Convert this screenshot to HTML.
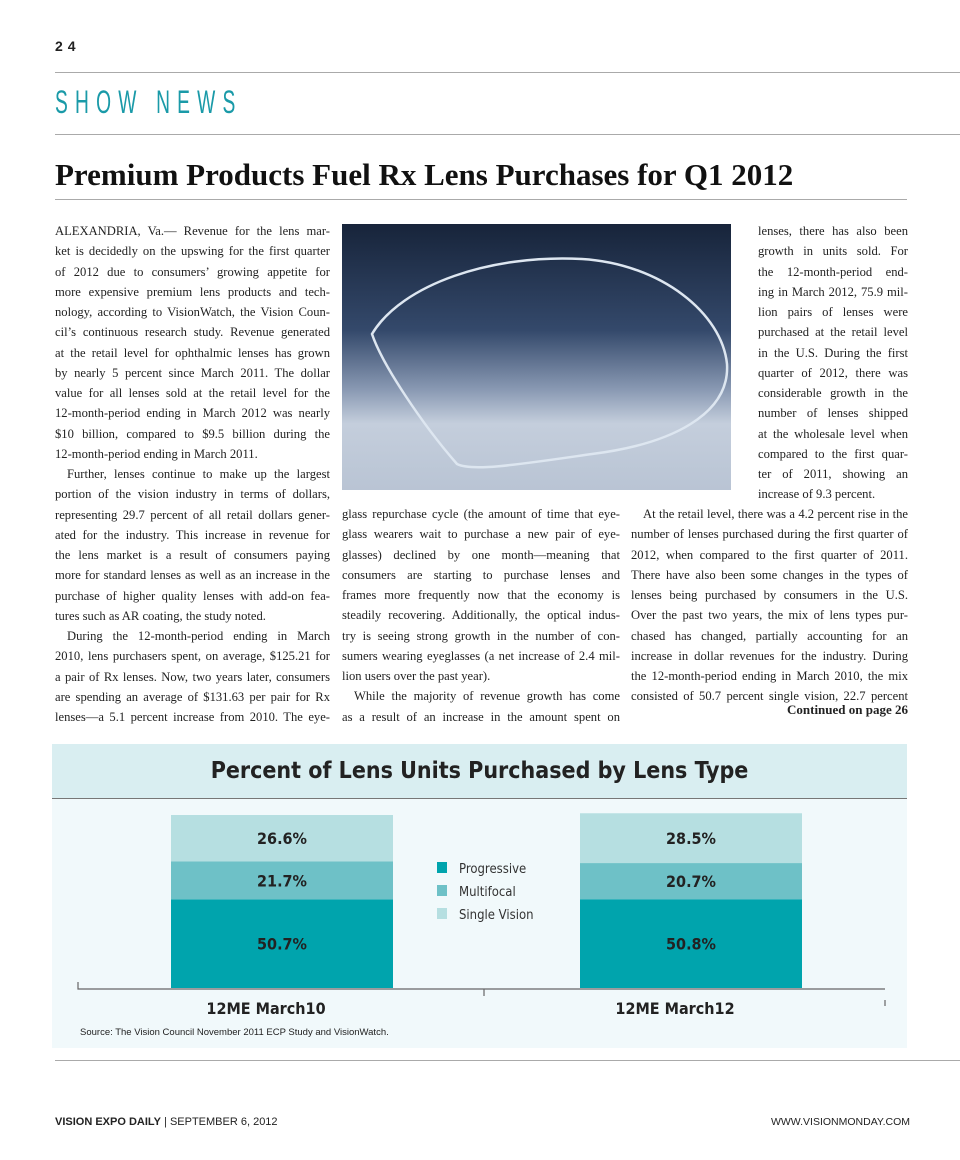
<!DOCTYPE html>
<html><head><meta charset="utf-8">
<style>
*{margin:0;padding:0;box-sizing:border-box}
body{width:960px;height:1160px;background:#fff;position:relative;overflow:hidden;font-family:"Liberation Serif",serif;color:#222}
.abs{position:absolute}
.rule{position:absolute;height:1px;background:#aaa}
.col{position:absolute;font-size:12.6px;line-height:20.25px}
.col div{text-align:justify;text-align-last:justify;white-space:nowrap;overflow:visible}
.col div.e{text-align-last:left}
.col div.i{text-indent:12px}
</style></head><body>
<div class="abs" style="left:55px;top:38px;font:bold 14px 'Liberation Sans',sans-serif;letter-spacing:5px">24</div>
<div class="rule" style="left:55px;top:72px;width:905px"></div>
<div class="abs" style="left:55px;top:84px;font:32px 'Liberation Sans',sans-serif;color:#1a9aa8;letter-spacing:12px;transform:scaleX(.6);transform-origin:left">SHOW NEWS</div>
<div class="rule" style="left:55px;top:134px;width:905px"></div>
<h1 class="abs" style="left:55px;top:157px;font:bold 31px 'Liberation Serif',serif;color:#111">Premium Products Fuel Rx Lens Purchases for Q1 2012</h1>
<div class="rule" style="left:55px;top:199px;width:852px"></div>

<div class="col" style="left:55px;top:221px;width:275px">
<div>ALEXANDRIA, Va.— Revenue for the lens mar-</div><div>ket is decidedly on the upswing for the first quarter</div><div>of 2012 due to consumers’ growing appetite for</div><div>more expensive premium lens products and tech-</div><div>nology, according to VisionWatch, the Vision Coun-</div><div>cil’s continuous research study. Revenue generated</div><div>at the retail level for ophthalmic lenses has grown</div><div>by nearly 5 percent since March 2011. The dollar</div><div>value for all lenses sold at the retail level for the</div><div>12-month-period ending in March 2012 was nearly</div><div>$10 billion, compared to $9.5 billion during the</div><div class="e">12-month-period ending in March 2011.</div><div class="i">Further, lenses continue to make up the largest</div><div>portion of the vision industry in terms of dollars,</div><div>representing 29.7 percent of all retail dollars gener-</div><div>ated for the industry. This increase in revenue for</div><div>the lens market is a result of consumers paying</div><div>more for standard lenses as well as an increase in the</div><div>purchase of higher quality lenses with add-on fea-</div><div class="e">tures such as AR coating, the study noted.</div><div class="i">During the 12-month-period ending in March</div><div>2010, lens purchasers spent, on average, $125.21 for</div><div>a pair of Rx lenses. Now, two years later, consumers</div><div>are spending an average of $131.63 per pair for Rx</div><div>lenses—a 5.1 percent increase from 2010. The eye-</div>
</div>

<svg class="abs" style="left:342px;top:224px" width="389" height="266">
<defs><linearGradient id="bg" x1="0" y1="0" x2="0" y2="1"><stop offset="0" stop-color="#17243a"/><stop offset=".4" stop-color="#34496b"/><stop offset=".62" stop-color="#8898b2"/><stop offset=".75" stop-color="#c4cedc"/><stop offset="1" stop-color="#b9c4d4"/></linearGradient></defs>
<rect width="389" height="266" fill="url(#bg)"/>
<path d="M30 110 C60 60 150 30 240 35 C320 40 380 90 385 140 C388 190 330 220 250 230 C180 240 130 248 115 240 C80 200 40 140 30 110Z" fill="none" stroke="#dde6f0" stroke-width="2.5"/>
</svg>

<div class="col" style="left:342px;top:504px;width:278px">
<div>glass repurchase cycle (the amount of time that eye-</div><div>glass wearers wait to purchase a new pair of eye-</div><div>glasses) declined by one month—meaning that</div><div>consumers are starting to purchase lenses and</div><div>frames more frequently now that the economy is</div><div>steadily recovering. Additionally, the optical indus-</div><div>try is seeing strong growth in the number of con-</div><div>sumers wearing eyeglasses (a net increase of 2.4 mil-</div><div class="e">lion users over the past year).</div><div class="i">While the majority of revenue growth has come</div><div>as a result of an increase in the amount spent on</div>
</div>

<div class="col" style="left:758px;top:221px;width:150px">
<div>lenses, there has also been</div><div>growth in units sold. For</div><div>the 12-month-period end-</div><div>ing in March 2012, 75.9 mil-</div><div>lion pairs of lenses were</div><div>purchased at the retail level</div><div>in the U.S. During the first</div><div>quarter of 2012, there was</div><div>considerable growth in the</div><div>number of lenses shipped</div><div>at the wholesale level when</div><div>compared to the first quar-</div><div>ter of 2011, showing an</div><div class="e">increase of 9.3 percent.</div>
</div>
<div class="col" style="left:631px;top:504px;width:277px">
<div class="i">At the retail level, there was a 4.2 percent rise in the</div><div>number of lenses purchased during the first quarter of</div><div>2012, when compared to the first quarter of 2011.</div><div>There have also been some changes in the types of</div><div>lenses being purchased by consumers in the U.S.</div><div>Over the past two years, the mix of lens types pur-</div><div>chased has changed, partially accounting for an</div><div>increase in dollar revenues for the industry. During</div><div>the 12-month-period ending in March 2010, the mix</div><div>consisted of 50.7 percent single vision, 22.7 percent</div>
</div>
<div class="abs" style="left:700px;top:702px;width:208px;text-align:right;font:bold 13px 'Liberation Serif',serif">Continued on page 26</div>

<div class="abs" style="left:52px;top:744px;width:855px;height:304px;background:#f1f9fb">
<div style="height:55px;background:#d9eef1;border-bottom:1.5px solid #777;text-align:center;font:bold 23px 'DejaVu Sans Condensed','Liberation Sans Narrow',sans-serif;line-height:55px;color:#222">Percent of Lens Units Purchased by Lens Type</div>
</div>
<svg id="chart" class="abs" style="left:0;top:0" width="960" height="1160"></svg>
<div class="abs" style="left:80px;top:1027px;font:9.5px 'Liberation Sans',sans-serif;color:#222">Source: The Vision Council November 2011 ECP Study and VisionWatch.</div>

<div class="rule" style="left:55px;top:1060px;width:905px"></div>
<div class="abs" style="left:55px;top:1116px;font:11px 'Liberation Sans',sans-serif"><b>VISION EXPO DAILY</b> | SEPTEMBER 6, 2012</div>
<div class="abs" style="left:700px;top:1116px;width:210px;text-align:right;font:10.5px 'Liberation Sans',sans-serif">WWW.VISIONMONDAY.COM</div>

<script>
const categories=["12ME March10","12ME March12"];
const seriesNames=["Progressive","Multifocal","Single Vision"];
const progressive=[50.7,50.8];
const multifocal=[21.7,20.7];
const singleVision=[26.6,28.5];
const colors=["#00a4ad","#6ec1c7","#b6dfe1"];
const NS="http://www.w3.org/2000/svg";
const svg=document.getElementById("chart");
const baseY=988, plotH=173, barW=222, centers=[282,691];
const y=v=>v/100*plotH*(100/99);
function mk(t,a){const e=document.createElementNS(NS,t);for(const k in a)e.setAttribute(k,a[k]);svg.appendChild(e);return e;}
const series=[progressive,multifocal,singleVision];
categories.forEach((c,i)=>{
  let cum=0;
  series.forEach((s,j)=>{
    const h=y(s[i]);const top=baseY-y(cum)-h;
    const r=mk("rect",{x:centers[i]-barW/2,y:top,width:barW,height:h,fill:colors[j]});
    
    
    const t=mk("text",{x:centers[i],y:top+h/2+6,"text-anchor":"middle","font-family":"DejaVu Sans Condensed,Liberation Sans,sans-serif","font-weight":"bold","font-size":"16",fill:"#222"});
    t.textContent=s[i].toFixed(1)+"%";
    
    
    cum+=s[i];
  });
  const l=mk("text",{x:centers[i]-16,y:1014,"text-anchor":"middle","font-family":"DejaVu Sans Condensed,Liberation Sans,sans-serif","font-weight":"bold","font-size":"16",fill:"#222"});
  l.textContent=c;
  
  
});
const ax=mk("path",{d:"M78 982V989H885M484 989V996M885 1000V1006",stroke:"#666","stroke-width":"1.2",fill:"none"});


seriesNames.forEach((n,j)=>{
  const r=mk("rect",{x:437,y:862+j*23,width:10,height:11,fill:colors[j]});
  
  
  const t=mk("text",{x:459,y:873+j*23,"font-family":"DejaVu Sans Condensed,Liberation Sans,sans-serif","font-size":"13",fill:"#333"});
  t.textContent=n;
  
  
});
</script>
</body></html>
